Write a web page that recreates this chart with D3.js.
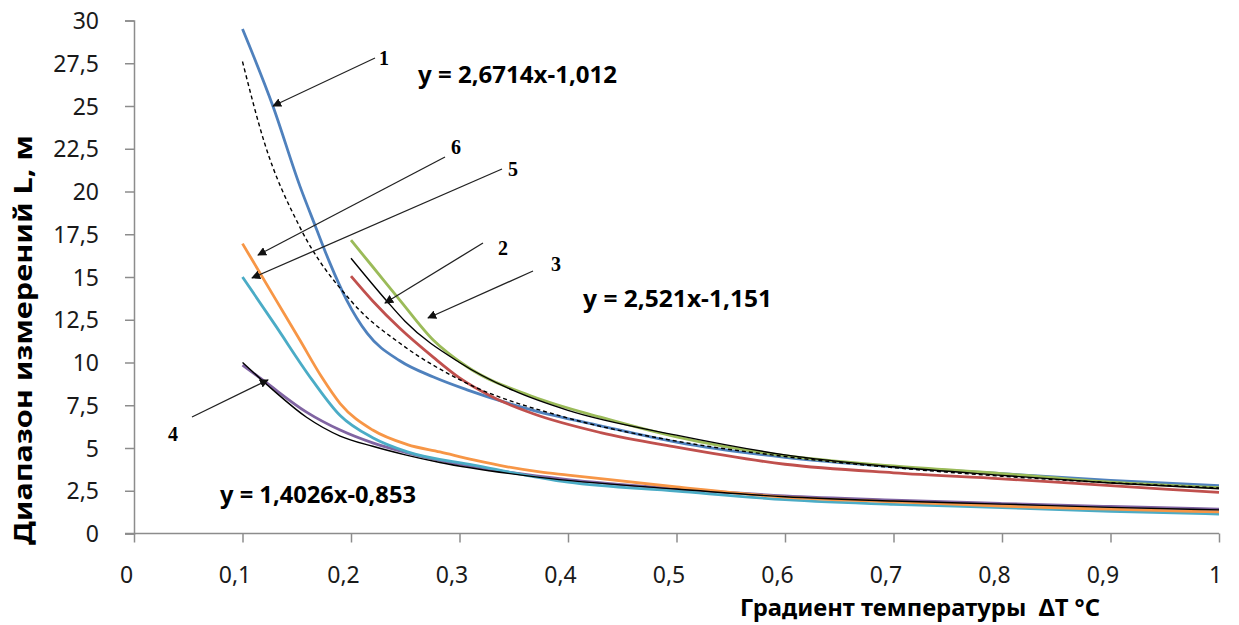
<!DOCTYPE html>
<html>
<head>
<meta charset="utf-8">
<script src="https://cdn.jsdelivr.net/npm/d3@7"></script>
<style>
  body { margin: 0; background: #fff; }
  svg { display: block; }
</style>
</head>
<body>
<svg width="1239" height="625"></svg>
<script>
// values
const xTicks = [0, 0.1, 0.2, 0.3, 0.4, 0.5, 0.6, 0.7, 0.8, 0.9, 1];
const yTicks = [0, 2.5, 5, 7.5, 10, 12.5, 15, 17.5, 20, 22.5, 25, 27.5, 30];

const s1X = [0.1, 0.128, 0.153, 0.167, 0.18, 0.196, 0.215, 0.245, 0.276, 0.307, 0.368, 0.43, 0.5, 0.6, 0.7, 0.8, 0.9, 1.0];
const s1Y = [29.5, 25.0, 20.3, 18.0, 15.9, 13.65, 11.7, 10.1, 9.15, 8.4, 7.2, 6.3, 5.35, 4.45, 3.9, 3.5, 3.1, 2.8];

const s2X = [0.2, 0.22, 0.245, 0.276, 0.3, 0.33, 0.368, 0.43, 0.5, 0.6, 0.7, 0.8, 0.9, 1.0];
const s2Y = [15.05, 13.6, 12.0, 10.3, 9.1, 8.0, 7.0, 5.9, 5.05, 4.05, 3.55, 3.2, 2.8, 2.4];

const s3X = [0.2, 0.22, 0.245, 0.276, 0.307, 0.368, 0.43, 0.5, 0.6, 0.7, 0.8, 0.9, 1.0];
const s3Y = [17.15, 15.6, 13.65, 11.3, 9.75, 8.0, 6.8, 5.65, 4.55, 3.95, 3.5, 3.0, 2.68];

const s4X = [0.1, 0.121, 0.159, 0.19, 0.22, 0.25, 0.3, 0.4, 0.5, 0.6, 0.7, 0.8, 0.9, 1.0];
const s4Y = [9.85, 8.86, 7.1, 6.05, 5.3, 4.75, 4.05, 3.15, 2.62, 2.2, 1.95, 1.75, 1.58, 1.43];

const s5X = [0.1, 0.13, 0.164, 0.19, 0.22, 0.252, 0.313, 0.4, 0.5, 0.6, 0.7, 0.8, 0.9, 1.0];
const s5Y = [15.0, 12.2, 9.0, 6.9, 5.6, 4.77, 4.0, 3.0, 2.48, 1.98, 1.7, 1.52, 1.3, 1.14];

const s6X = [0.1, 0.13, 0.153, 0.173, 0.19, 0.22, 0.252, 0.282, 0.313, 0.344, 0.374, 0.4, 0.5, 0.6, 0.7, 0.8, 0.9, 1.0];
const s6Y = [16.95, 13.75, 11.3, 9.15, 7.6, 6.05, 5.2, 4.77, 4.3, 3.9, 3.6, 3.42, 2.72, 2.13, 1.85, 1.6, 1.42, 1.26];

// trend lines
const tUpX = [0.2, 0.233, 0.25, 0.3, 0.35, 0.4, 0.5, 0.6, 0.7, 0.8, 0.9, 1.0];
const tUpY = [16.1, 13.6, 12.4, 10.0, 8.35, 7.2, 5.75, 4.6, 3.9, 3.4, 2.95, 2.62];

const tDashX = [0.1, 0.12, 0.153, 0.2, 0.25, 0.3, 0.4, 0.5, 0.6, 0.7, 0.8, 0.9, 1.0];
const tDashY = [27.6, 22.9, 17.9, 13.6, 10.9, 9.0, 6.75, 5.4, 4.5, 3.85, 3.35, 2.97, 2.67];

const tLowX = [0.1, 0.128, 0.159, 0.19, 0.22, 0.25, 0.282, 0.374, 0.5, 0.6, 0.7, 0.8, 0.9, 1.0];
const tLowY = [10.0, 8.4, 6.8, 5.7, 5.1, 4.6, 4.15, 3.28, 2.6, 2.15, 1.9, 1.72, 1.53, 1.38];

const equations = ["y = 2,6714x-1,012", "y = 2,521x-1,151", "y = 1,4026x-0,853"];
const seriesNames = ["1", "2", "3", "4", "5", "6"];

const svg = d3.select("svg");

const x = d3.scaleLinear().domain([0, 1]).range([134, 1219]);
const y = d3.scaleLinear().domain([0, 30]).range([533.5, 20.5]);

const zip = (xs, ys) => xs.map((v, i) => [v, ys[i]]);

// axes
const yAxis = svg.append("g")
    .attr("transform", "translate(" + x(0) + ",0)")
    .call(d3.axisLeft(y).tickValues(yTicks).tickSize(9).tickPadding(26)
        .tickFormat(d => String(d).replace(".", ",")));

const xAxis = svg.append("g")
    .attr("transform", "translate(0," + y(0) + ")")
    .call(d3.axisBottom(x).tickValues(xTicks).tickSize(9).tickPadding(24)
        .tickFormat(d => String(d).replace(".", ",")));

[xAxis, yAxis].forEach(a => {
    a.select(".domain").attr("stroke", "#8c8c8c").attr("stroke-width", 1.5);
    a.selectAll(".tick line").attr("stroke", "#8c8c8c").attr("stroke-width", 1.5);
    a.selectAll(".tick text")
        .attr("fill", "#1a1a1a")
        .style("font-family", "'Noto Sans', 'Open Sans', sans-serif")
        .style("font-size", "23px");
});
xAxis.select(".domain").attr("d", "M" + (x(0) - 9) + ",0H" + x(1));
yAxis.selectAll(".tick text").attr("dy", "0.35em");
xAxis.selectAll(".tick text").attr("dy", "0.72em").attr("dx", d => d === 1 ? -4 : -8);

const line = d3.line()
    .x(d => x(d[0]))
    .y(d => y(d[1]))
    .curve(d3.curveMonotoneX);

const colored = [
    { data: zip(s1X, s1Y), color: "#4f81bd" },
    { data: zip(s2X, s2Y), color: "#c0504d" },
    { data: zip(s3X, s3Y), color: "#9bbb59" },
    { data: zip(s4X, s4Y), color: "#8064a2" },
    { data: zip(s5X, s5Y), color: "#4bacc6" },
    { data: zip(s6X, s6Y), color: "#f79646" },
];

svg.append("g")
    .selectAll("path")
    .data(colored)
    .enter().append("path")
        .attr("d", d => line(d.data))
        .attr("fill", "none")
        .attr("stroke", d => d.color)
        .attr("stroke-width", 2.8);

const trends = [
    { data: zip(tUpX, tUpY), dash: null },
    { data: zip(tLowX, tLowY), dash: null },
    { data: zip(tDashX, tDashY), dash: "4,3" },
];

svg.append("g")
    .selectAll("path")
    .data(trends)
    .enter().append("path")
        .attr("d", d => line(d.data))
        .attr("fill", "none")
        .attr("stroke", "#000")
        .attr("stroke-width", 1.4)
        .attr("stroke-dasharray", d => d.dash);

// arrows pointing at curves
svg.append("defs").append("marker")
    .attr("id", "head")
    .attr("viewBox", "0 0 10 10")
    .attr("refX", 9).attr("refY", 5)
    .attr("markerWidth", 9).attr("markerHeight", 9)
    .attr("markerUnits", "userSpaceOnUse")
    .attr("orient", "auto")
  .append("path")
    .attr("d", "M0,0L10,5L0,10z")
    .attr("fill", "#111");

const arrows = [
    { name: "1", from: [375, 58],  to: [273, 106], lx: 384, ly: 65 },
    { name: "2", from: [483, 243], to: [385, 303], lx: 503, ly: 255 },
    { name: "3", from: [533, 271], to: [428, 318], lx: 556, ly: 271 },
    { name: "4", from: [192, 417], to: [268, 380], lx: 173, ly: 441 },
    { name: "5", from: [502, 169], to: [252, 278], lx: 513, ly: 176 },
    { name: "6", from: [445, 157], to: [258, 255], lx: 456, ly: 154 },
];

svg.append("g")
    .selectAll("line")
    .data(arrows)
    .enter().append("line")
        .attr("x1", d => d.from[0]).attr("y1", d => d.from[1])
        .attr("x2", d => d.to[0]).attr("y2", d => d.to[1])
        .attr("stroke", "#222")
        .attr("stroke-width", 1.3)
        .attr("marker-end", "url(#head)");

svg.append("g")
    .selectAll("text")
    .data(arrows)
    .enter().append("text")
        .attr("x", d => d.lx).attr("y", d => d.ly)
        .attr("text-anchor", "middle")
        .style("font-family", "'Liberation Serif', 'DejaVu Serif', serif")
        .style("font-weight", "bold")
        .style("font-size", "20px")
        .text(d => d.name);

// trend equations
const eqPos = [
    { x: 418, y: 83, w: 199 },
    { x: 583, y: 307, w: 189 },
    { x: 220, y: 503, w: 196 },
];

svg.append("g")
    .selectAll("text")
    .data(equations)
    .enter().append("text")
        .attr("x", (d, i) => eqPos[i].x)
        .attr("y", (d, i) => eqPos[i].y)
        .attr("textLength", (d, i) => eqPos[i].w)
        .attr("lengthAdjust", "spacingAndGlyphs")
        .style("font-family", "'Noto Sans', 'Open Sans', sans-serif")
        .style("font-weight", "bold")
        .style("font-size", "24px")
        .text(d => d);

// axis titles
svg.append("text")
    .attr("x", 740).attr("y", 616)
    .attr("textLength", 360)
    .attr("lengthAdjust", "spacingAndGlyphs")
    .style("white-space", "pre")
    .style("font-family", "'Noto Sans', 'Open Sans', sans-serif")
    .style("font-weight", "bold")
    .style("font-size", "24px")
    .text("Градиент температуры  ΔT °C");

svg.append("text")
    .attr("transform", "translate(32,545) rotate(-90)")
    .attr("textLength", 410)
    .attr("lengthAdjust", "spacingAndGlyphs")
    .style("font-family", "'Noto Sans', 'Open Sans', sans-serif")
    .style("font-weight", "bold")
    .style("font-size", "25px")
    .text("Диапазон измерений L, м");
</script>
</body>
</html>
